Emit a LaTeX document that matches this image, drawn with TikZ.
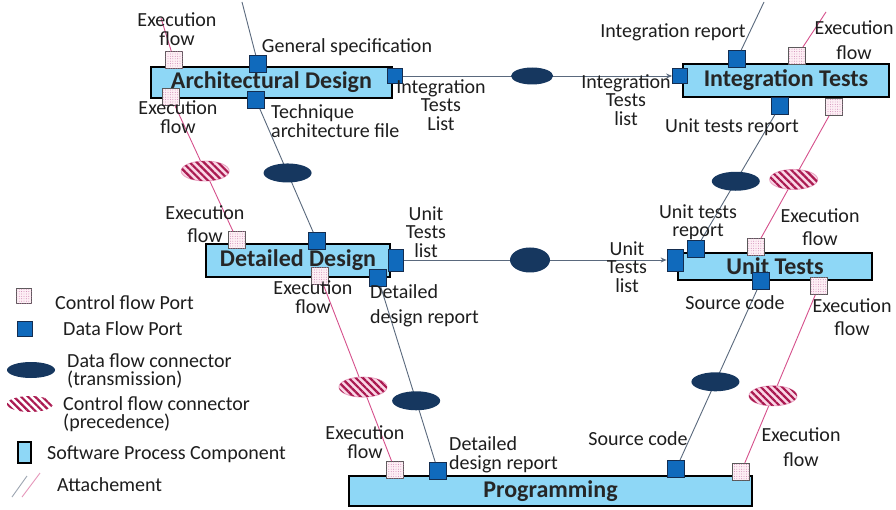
\documentclass[tikz,border=0pt]{standalone}
\usepackage{fontspec}
\setmainfont{Carlito}
\usetikzlibrary{shapes.geometric, patterns.meta, arrows.meta}

\definecolor{spcblue}{RGB}{142,215,246}
\definecolor{portblue}{RGB}{16,106,188}
\definecolor{portedge}{RGB}{20,45,80}
\definecolor{navy}{RGB}{22,55,95}
\definecolor{dataline}{RGB}{90,105,125}
\definecolor{ctrlline}{RGB}{214,80,140}
\definecolor{stripe}{RGB}{170,25,80}
\definecolor{stripebg}{RGB}{250,215,230}
\definecolor{dotpink}{RGB}{200,120,170}
\definecolor{txt}{RGB}{30,30,30}

\tikzset{
  spc/.style={draw=black, line width=2pt, fill=spcblue, font=\fontsize{24}{26}\selectfont\bfseries, text=black!85, inner sep=0pt},
  dport/.style={draw=portedge, fill=portblue, line width=0.8pt, minimum size=17pt, inner sep=0pt},
  cport/.style={draw=black!65, fill=stripebg!40, line width=0.8pt, minimum size=17pt, inner sep=0pt,
    postaction={pattern={Dots[radius=0.45pt,distance=2.4pt]}, pattern color=dotpink}},
  dconn/.style={ellipse, fill=navy, minimum width=48pt, minimum height=19pt, inner sep=0pt},
  cconn/.style={ellipse, draw=ctrlline!50, fill=stripebg, minimum width=48pt, minimum height=20pt, inner sep=0pt,
    postaction={pattern={Lines[angle=-45,distance=5pt,line width=2.2pt]}, pattern color=stripe}},
  dline/.style={draw=dataline, line width=0.9pt},
  cline/.style={draw=ctrlline, line width=0.9pt},
  lbl/.style={font=\fontsize{20}{18.5}\selectfont, text=txt, align=center, inner sep=0pt},
}

\begin{document}
\begin{tikzpicture}[x=1pt, y=-1pt]
\useasboundingbox[fill=white] (0,0) rectangle (896,510);

% software process components
\node[spc, minimum width=241pt, minimum height=31pt] (arch) at (271.5,82.5) {Architectural Design};
\node[spc, minimum width=184pt, minimum height=33pt] (ddes) at (298,260.5) {Detailed Design};
\node[spc, minimum width=206pt, minimum height=33pt] (itest) at (786,80.5) {Integration Tests};
\node[spc, minimum width=194pt, minimum height=27pt] (utest) at (775,266.5) {Unit Tests};
\node[spc, minimum width=403pt, minimum height=30pt] (prog) at (550.5,491) {Programming};

% ports
\node[cport] (cA1) at (174,60) {};
\node[dport] (dA1) at (258,64) {};
\node[dport, minimum size=15pt] (dA2) at (395,76) {};
\node[cport] (cA2) at (171,97) {};
\node[dport] (dA3) at (256,100) {};

\node[cport] (cD1) at (237,240) {};
\node[dport] (dD1) at (317,241) {};
\node[dport, minimum width=15pt, minimum height=22pt] (dD2) at (396,260) {};
\node[dport] (dD3) at (378,278) {};
\node[cport] (cD2) at (320,276) {};

\node[dport, minimum size=15pt] (dI1) at (680,76) {};
\node[dport] (dI2) at (737,59) {};
\node[cport] (cI1) at (797,56) {};
\node[dport] (dI3) at (780,106) {};
\node[cport] (cI2) at (834,107) {};

\node[dport, minimum width=16pt, minimum height=22pt] (dU1) at (675,260) {};
\node[dport] (dU2) at (696,249) {};
\node[cport] (cU1) at (756,247) {};
\node[dport] (dU3) at (761,281) {};
\node[cport] (cU2) at (819,286) {};

\node[cport] (cP1) at (395,470) {};
\node[dport] (dP1) at (438,471) {};
\node[dport] (dP2) at (676,469) {};
\node[cport] (cP2) at (741,472) {};

% loose ends
\coordinate (topA) at (242,2);
\coordinate (topAc) at (161,18);
\coordinate (topI) at (764,2);
\coordinate (topIc) at (826,12);

% attachements and connectors
\draw[dline] (dA1) -- (topA);
\draw[cline] (cA1) -- (topAc);
\draw[dline] (dA3) -- node[dconn, pos=0.52] (dcAD) {} (dD1);
\draw[cline] (cA2) -- node[cconn, pos=0.52] (ccAD) {} (cD1);
\draw[dline, -{Stealth[length=6pt,width=5pt]}] (dA2) -- node[dconn, pos=0.48, minimum width=42pt, minimum height=17pt] (dcAI) {} (dI1);
\draw[dline] (dI2) -- (topI);
\draw[cline] (cI1) -- (topIc);
\draw[dline] (dI3) -- node[dconn, pos=0.53] (dcIU) {} (dU2);
\draw[cline] (cI2) -- node[cconn, pos=0.52] (ccIU) {} (cU1);
\draw[dline, -{Stealth[length=6pt,width=5pt]}] (dD2) -- node[dconn, pos=0.48, minimum width=40pt, minimum height=25pt] (dcDU) {} (dU1);
\draw[dline] (dD3) -- node[dconn, pos=0.65] (dcDP) {} (dP1);
\draw[cline] (cD2) -- node[cconn, pos=0.58] (ccDP) {} (cP1);
\draw[dline] (dU3) -- node[dconn, pos=0.54] (dcUP) {} (dP2);
\draw[cline] (cU2) -- node[cconn, pos=0.6] (ccUP) {} (cP2);

% port labels
\node[lbl] (lA1) at (177,29) {Execution\\flow};
\node[lbl] (lA2) at (347,47) {General specification};
\node[lbl] (lA3) at (178,117) {Execution\\flow};
\node[lbl, align=left, anchor=west] (lA4) at (271,121) {Technique\\architecture file};
\node[lbl] (lA5) at (441,105) {Integration\\Tests\\List};
\node[lbl] (lD1) at (205,224) {Execution\\[5pt]flow};
\node[lbl] (lD2) at (426,232) {Unit\\Tests\\list};
\node[lbl] (lD3) at (313,297) {Execution\\flow};
\node[lbl, align=left, anchor=west] (lD4) at (370,306) {Detailed\\[6pt]design report};
\node[lbl] (lI1) at (673,32) {Integration report};
\node[lbl] (lI2) at (854,40) {Execution\\[6pt]flow};
\node[lbl] (lI3) at (626,100) {Integration\\Tests\\list};
\node[lbl] (lI4) at (732,127) {Unit tests report};
\node[lbl] (lU1) at (698,222) {Unit tests\\report};
\node[lbl] (lU2) at (820,227) {Execution\\[4pt]flow};
\node[lbl] (lU3) at (627,267) {Unit\\Tests\\list};
\node[lbl] (lU4) at (735,303) {Source code};
\node[lbl] (lU5) at (852,317) {Execution\\[5pt]flow};
\node[lbl] (lP1) at (365,442) {Execution\\flow};
\node[lbl, align=left, anchor=west] (lP2) at (449,455) {Detailed\\design report};
\node[lbl] (lP3) at (638,439) {Source code};
\node[lbl] (lP4) at (801,447) {Execution\\[7pt]flow};

% legend
\node[cport, minimum size=15pt] (kC) at (24,296) {};
\node[lbl, anchor=west] (kCt) at (55,303) {Control flow Port};
\node[dport, minimum size=15pt] (kD) at (25,329) {};
\node[lbl, anchor=west] (kDt) at (63,329) {Data Flow Port};
\node[dconn, minimum height=16pt] (kDC) at (31,370) {};
\node[lbl, anchor=west, align=left] (kDCt) at (67,371) {Data flow connector\\(transmission)};
\node[ellipse, minimum width=46pt, minimum height=16pt, inner sep=0pt,
  pattern={Lines[angle=-45,distance=5pt,line width=2.2pt]}, pattern color=stripe] (kCC) at (30,404) {};
\node[lbl, anchor=west, align=left] (kCCt) at (63,414) {Control flow connector\\(precedence)};
\node[draw=black, line width=2pt, fill=spcblue, minimum width=13pt, minimum height=21pt, inner sep=0pt] (kS) at (24.5,452) {};
\node[lbl, anchor=west] (kSt) at (47,454) {Software Process Component};
\draw[dline, draw=dataline!60] (12,497) -- (27,476);
\draw[cline, draw=ctrlline!60] (22,497) -- (40,473);
\node[lbl, anchor=west] (kAt) at (57,485) {Attachement};

\end{tikzpicture}
\end{document}
